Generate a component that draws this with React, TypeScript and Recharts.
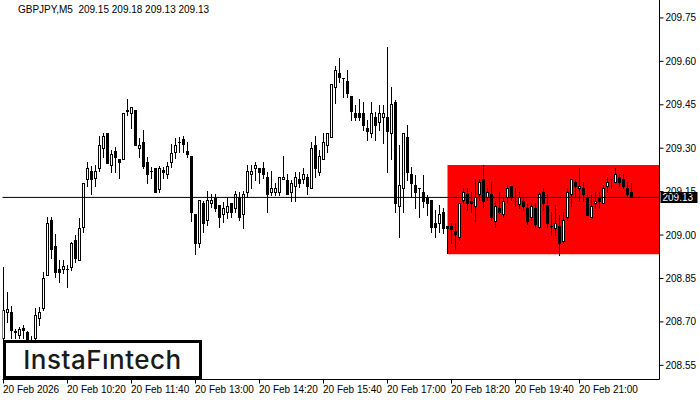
import React from 'react';
import { ComposedChart, Bar, XAxis, YAxis, ReferenceArea, ReferenceLine } from 'recharts';

const SYMBOL = 'GBPJPY';
const TIMEFRAME = 'M5';

const OPEN = [
  208.645, 208.734, 208.734, 208.665, 208.655, 208.679, 208.665, 208.638, 208.645, 208.714,
  208.748, 208.862, 209.052, 208.962, 208.883, 208.883, 208.883, 208.890, 208.983, 208.914,
  209.028, 209.194, 209.221, 209.197, 209.232, 209.301, 209.353, 209.242, 209.290, 209.263,
  209.263, 209.429, 209.422, 209.432, 209.301, 209.321, 209.252, 209.221, 209.232, 209.159,
  209.225, 209.211, 209.252, 209.287, 209.321, 209.332, 209.290, 209.273, 209.073, 208.973,
  209.111, 209.052, 209.111, 209.128, 209.104, 209.073, 209.080, 209.111, 209.094, 209.128,
  209.073, 209.149, 209.211, 209.232, 209.232, 209.232, 209.201, 209.149, 209.149, 209.149,
  209.194, 209.190, 209.149, 209.170, 209.194, 209.194, 209.201, 209.163, 209.311, 209.218,
  209.263, 209.311, 209.339, 209.511, 209.560, 209.543, 209.532, 209.480, 209.422, 209.422,
  209.422, 209.370, 209.353, 209.408, 209.391, 209.408, 209.408, 209.353, 209.460, 209.100,
  209.163, 209.339, 209.211, 209.173, 209.163, 209.149, 209.132, 209.121, 209.042, 209.042,
  209.080, 209.031, 209.031, 209.014, 208.993, 209.121, 209.142, 209.118, 209.100, 209.142,
  209.194, 209.132, 209.142, 209.049, 209.094, 209.073, 209.132, 209.170, 209.118, 209.107,
  209.118, 209.094, 209.062, 209.094, 209.028, 209.149, 209.104, 209.031, 209.024, 209.031,
  208.980, 209.062, 209.142, 209.183, 209.163, 209.163, 209.132, 209.062, 209.111, 209.132,
  209.111, 209.170, 209.194, 209.183, 209.201, 209.194, 209.163, 209.150,
];

const HIGH = [
  208.890, 208.803, 208.755, 208.676, 208.683, 208.689, 208.669, 208.651, 208.748, 208.752,
  208.872, 209.062, 209.062, 209.004, 208.914, 208.914, 208.897, 208.976, 209.000, 209.059,
  209.180, 209.252, 209.239, 209.242, 209.342, 209.353, 209.353, 209.294, 209.304, 209.263,
  209.422, 209.470, 209.442, 209.432, 209.335, 209.363, 209.270, 209.235, 209.232, 209.239,
  209.235, 209.252, 209.315, 209.335, 209.339, 209.342, 209.321, 209.273, 209.073, 209.121,
  209.118, 209.152, 209.142, 209.142, 209.104, 209.114, 209.132, 209.111, 209.152, 209.149,
  209.152, 209.242, 209.242, 209.252, 209.232, 209.252, 209.218, 209.221, 209.180, 209.201,
  209.273, 209.211, 209.190, 209.218, 209.218, 209.232, 209.211, 209.321, 209.342, 209.294,
  209.353, 209.353, 209.522, 209.584, 209.612, 209.543, 209.570, 209.480, 209.449, 209.470,
  209.460, 209.397, 209.460, 209.425, 209.449, 209.449, 209.650, 209.511, 209.467, 209.311,
  209.353, 209.380, 209.235, 209.207, 209.163, 209.207, 209.138, 209.121, 209.087, 209.104,
  209.094, 209.031, 209.042, 209.042, 209.111, 209.163, 209.163, 209.149, 209.194, 209.194,
  209.242, 209.163, 209.183, 209.118, 209.149, 209.132, 209.173, 209.170, 209.163, 209.149,
  209.132, 209.107, 209.111, 209.111, 209.149, 209.163, 209.142, 209.080, 209.104, 209.069,
  209.080, 209.163, 209.194, 209.194, 209.232, 209.183, 209.142, 209.138, 209.149, 209.149,
  209.173, 209.201, 209.194, 209.232, 209.211, 209.211, 209.183, 209.180,
];

const LOW = [
  208.638, 208.700, 208.645, 208.645, 208.645, 208.645, 208.634, 208.603, 208.638, 208.689,
  208.741, 208.862, 208.921, 208.855, 208.838, 208.869, 208.821, 208.879, 208.907, 208.914,
  209.011, 209.170, 209.142, 209.170, 209.221, 209.270, 209.249, 209.218, 209.218, 209.197,
  209.263, 209.415, 209.370, 209.311, 209.270, 209.232, 209.180, 209.197, 209.149, 209.149,
  209.197, 209.197, 209.235, 209.266, 209.287, 209.287, 209.270, 209.049, 208.935, 208.959,
  209.011, 209.035, 209.097, 209.083, 209.028, 209.045, 209.059, 209.062, 209.080, 209.052,
  209.024, 209.132, 209.163, 209.190, 209.180, 209.197, 209.080, 209.138, 209.138, 209.138,
  209.194, 209.142, 209.118, 209.118, 209.166, 209.180, 209.142, 209.163, 209.201, 209.207,
  209.263, 209.287, 209.339, 209.456, 209.529, 209.477, 209.477, 209.397, 209.397, 209.397,
  209.363, 209.328, 209.339, 209.328, 209.363, 209.318, 209.218, 209.263, 209.080, 208.993,
  209.080, 209.190, 209.132, 209.094, 209.062, 209.097, 209.069, 209.011, 208.993, 209.011,
  209.007, 208.938, 208.973, 208.952, 208.983, 209.111, 209.087, 209.080, 209.049, 209.121,
  209.097, 209.121, 209.052, 209.028, 209.076, 209.062, 209.114, 209.121, 209.100, 209.094,
  209.087, 209.038, 209.052, 209.028, 209.024, 209.087, 209.028, 209.000, 209.000, 208.931,
  208.973, 209.052, 209.100, 209.132, 209.118, 209.118, 209.069, 209.062, 209.094, 209.094,
  209.111, 209.149, 209.163, 209.183, 209.170, 209.163, 209.132, 209.130,
];

const CLOSE = [
  208.741, 208.745, 208.672, 208.669, 208.676, 208.672, 208.638, 208.620, 208.724, 208.734,
  208.852, 209.042, 208.952, 208.872, 208.872, 208.893, 208.884, 208.973, 208.921, 209.024,
  209.180, 209.232, 209.194, 209.221, 209.311, 209.342, 209.249, 209.280, 209.270, 209.252,
  209.422, 209.432, 209.442, 209.311, 209.311, 209.239, 209.211, 209.222, 209.149, 209.232,
  209.218, 209.239, 209.284, 209.311, 209.322, 209.315, 209.280, 209.080, 208.973, 209.121,
  209.042, 209.121, 209.121, 209.094, 209.062, 209.094, 209.100, 209.080, 209.142, 209.062,
  209.142, 209.221, 209.221, 209.242, 209.218, 209.211, 209.142, 209.163, 209.163, 209.201,
  209.201, 209.142, 209.180, 209.201, 209.180, 209.211, 209.170, 209.301, 209.232, 209.273,
  209.321, 209.353, 209.522, 209.570, 209.546, 209.542, 209.491, 209.429, 209.408, 209.408,
  209.380, 209.360, 209.422, 209.380, 209.422, 209.422, 209.360, 209.453, 209.111, 209.173,
  209.353, 209.218, 209.180, 209.149, 209.162, 209.118, 209.111, 209.028, 209.028, 209.073,
  209.024, 209.024, 209.021, 209.004, 209.111, 209.149, 209.111, 209.111, 209.132, 209.183,
  209.118, 209.149, 209.062, 209.100, 209.080, 209.118, 209.163, 209.132, 209.119, 209.132,
  209.100, 209.049, 209.100, 209.038, 209.142, 209.111, 209.042, 209.032, 209.042, 208.973,
  209.052, 209.149, 209.194, 209.170, 209.170, 209.142, 209.069, 209.100, 209.118, 209.118,
  209.163, 209.183, 209.195, 209.211, 209.183, 209.170, 209.142, 209.130,
];

const TICK_BARS = [0, 16, 32, 48, 64, 80, 96, 112, 128, 144];
const TICK_LABELS = [
  '20 Feb 2026', '20 Feb 10:20', '20 Feb 11:40', '20 Feb 13:00', '20 Feb 14:20',
  '20 Feb 15:40', '20 Feb 17:00', '20 Feb 18:20', '20 Feb 19:40', '20 Feb 21:00',
];
const PRICE_TICKS = [208.55, 208.7, 208.85, 209.0, 209.15, 209.3, 209.45, 209.6, 209.75];
const Y_DOMAIN: [number, number] = [208.501, 209.812];
const X_DOMAIN: [number, number] = [-0.25, 164];

const RANGE_START_BAR = 111;
const RANGE_LOW = 208.934;
const RANGE_HIGH = 209.242;

const FONT = "'Liberation Sans', Arial, sans-serif";

const candles = OPEN.map((o, i) => ({
  idx: i,
  open: o,
  high: HIGH[i],
  low: LOW[i],
  close: CLOSE[i],
}));
const last = candles[candles.length - 1];

function Candle(props: any) {
  const { x, y, width, height, payload } = props;
  if (x == null || y == null || !payload) return null;
  const top = Math.min(y, y + height);
  const h = Math.abs(height);
  const { open, close, high, low } = payload;
  const span = high - low;
  const k = span > 0 ? h / span : 0;
  const yOf = (v: number) => top + (high - v) * k;
  const cx = Math.floor(x + width / 2) + 0.5;
  const hi = Math.round(yOf(high));
  const lo = Math.round(yOf(low));
  const bTop = Math.round(yOf(Math.max(open, close)));
  const bBot = Math.round(yOf(Math.min(open, close)));
  const bull = close >= open;
  let body;
  if (bBot - bTop < 1) {
    body = <rect x={cx - 1.5} y={bTop} width={3} height={1} fill="#000" />;
  } else if (bull) {
    body = (
      <rect x={cx - 1} y={bTop + 0.5} width={2} height={bBot - bTop} fill="#fff" stroke="#000" strokeWidth={1} />
    );
  } else {
    body = <rect x={cx - 1.5} y={bTop} width={3} height={bBot - bTop + 1} fill="#000" />;
  }
  return (
    <g>
      <line x1={cx} x2={cx} y1={hi} y2={lo + 1} stroke="#000" strokeWidth={1} />
      {body}
    </g>
  );
}

function XTick(props: any) {
  const { x, y, payload } = props;
  const i = TICK_BARS.indexOf(payload.value);
  return (
    <text x={x - 0.5} y={y + 7} textAnchor="start" fill="#000" fontSize={10} fontFamily={FONT}>
      {TICK_LABELS[i]}
    </text>
  );
}

function PriceTag(props: any) {
  const vb = props.viewBox || {};
  const x = vb.x + vb.width + 1;
  const y = Math.round(vb.y);
  return (
    <g>
      <rect x={x} y={y - 5} width={37} height={11} fill="#000" />
      <text x={x + 2} y={y + 4} fill="#fff" fontSize={10} fontFamily={FONT}>
        {last.close.toFixed(2)}
      </text>
    </g>
  );
}

export default function App() {
  return (
    <div style={{ position: 'absolute', left: 0, top: 0, width: 700, height: 400, background: '#fff', overflow: 'hidden' }}>
      <ComposedChart
        width={700}
        height={400}
        data={candles}
        margin={{ top: 0, right: 0.5, bottom: 0.5, left: 2.5 }}
      >
        <XAxis
          dataKey="idx"
          type="number"
          domain={X_DOMAIN}
          allowDataOverflow
          ticks={TICK_BARS}
          interval={0}
          tick={<XTick />}
          tickSize={4}
          height={20}
          axisLine={{ stroke: '#000' }}
          tickLine={{ stroke: '#000' }}
        />
        <YAxis
          yAxisId="right"
          orientation="right"
          type="number"
          domain={Y_DOMAIN}
          allowDataOverflow
          ticks={PRICE_TICKS}
          interval={0}
          tickFormatter={(v: number) => v.toFixed(2)}
          width={40}
          tickSize={4}
          tick={{ fill: '#000', fontSize: 10, fontFamily: FONT }}
          axisLine={{ stroke: '#000' }}
          tickLine={{ stroke: '#000' }}
        />
        <YAxis
          yAxisId="left"
          orientation="left"
          type="number"
          domain={Y_DOMAIN}
          allowDataOverflow
          width={0}
          tick={false}
          tickLine={false}
          axisLine={{ stroke: '#000' }}
        />
        <ReferenceArea
          yAxisId="right"
          x1={RANGE_START_BAR}
          x2={X_DOMAIN[1]}
          y1={RANGE_LOW}
          y2={RANGE_HIGH}
          fill="#ff0000"
          fillOpacity={1}
          stroke="none"
          ifOverflow="hidden"
        />
        <ReferenceLine
          yAxisId="right"
          y={last.close}
          stroke="#000"
          strokeWidth={1}
          label={PriceTag}
        />
        <Bar
          yAxisId="right"
          dataKey={(d: any) => [d.low, d.high]}
          barSize={3}
          shape={Candle}
          isAnimationActive={false}
        />
      </ComposedChart>
      <div
        style={{
          position: 'absolute',
          left: 18,
          top: 4,
          fontFamily: FONT,
          fontSize: 10,
          lineHeight: '12px',
          color: '#000',
          whiteSpace: 'pre',
        }}
      >
        {`${SYMBOL},${TIMEFRAME}  ${last.open.toFixed(2)} ${last.high.toFixed(2)} ${last.low.toFixed(2)} ${last.close.toFixed(2)}`}
      </div>
      <div
        style={{
          position: 'absolute',
          left: 3,
          top: 340,
          width: 199,
          height: 39,
          boxSizing: 'border-box',
          border: '3px solid #000',
          background: '#fff',
          display: 'flex',
          alignItems: 'center',
          justifyContent: 'center',
          fontFamily: 'Inter, sans-serif',
          fontWeight: 500,
          fontSize: 26,
          letterSpacing: 0.5,
          color: '#1a1a1a',
        }}
      >
        InstaFıntech
      </div>
    </div>
  );
}
